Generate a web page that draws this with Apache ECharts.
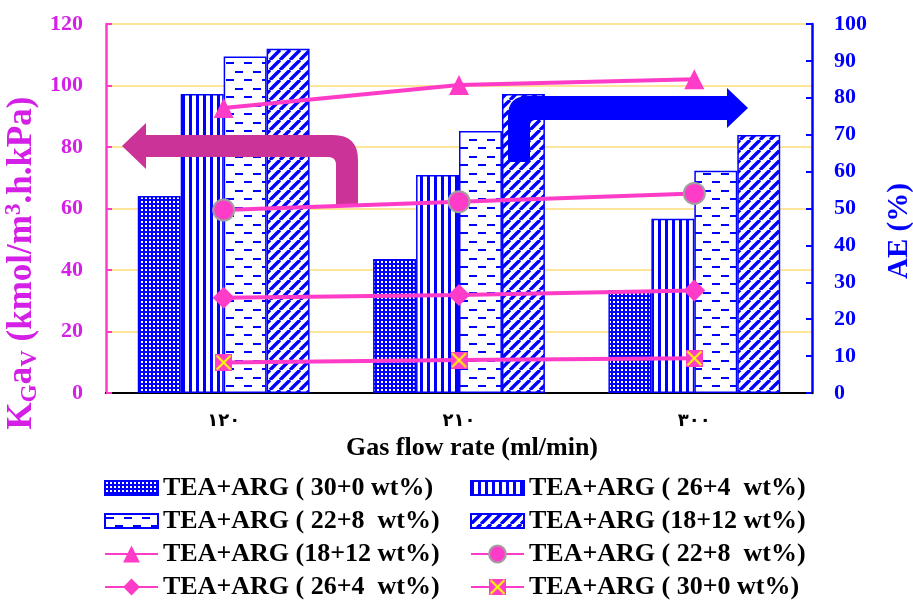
<!DOCTYPE html>
<html>
<head>
<meta charset="utf-8">
<script src="https://cdn.jsdelivr.net/npm/echarts@6/dist/echarts.min.js"></script>
<style>
  html, body { margin: 0; padding: 0; background: #fff; }
  #chart { width: 913px; height: 602px; }
</style>
</head>
<body>
<div id="chart"></div>
<script>
// categories (Arabic-Indic digits as in the figure)
const categories = ["١٢٠", "٢١٠", "٣٠٠"];

// AE (%) bars, right axis
const ae30_0 = [53.4, 36.3, 27.9];
const ae26_4 = [81.0, 59.1, 47.2];
const ae22_8 = [91.2, 71.0, 60.2];
const ae18_12 = [93.3, 81.0, 69.9];

// KGaV lines, left axis
const kga18_12 = [92.7, 100.2, 102.0];
const kga22_8 = [59.5, 62.2, 64.9];
const kga26_4 = [31.0, 31.9, 33.3];
const kga30_0 = [9.9, 10.7, 11.3];

// axis ticks
const leftTicks = { min: 0, max: 120, interval: 20 };
const rightTicks = { min: 0, max: 100, interval: 10 };

const BLUE = "#0000ff";
const PINK = "#ff3cc8";
const PURPLE = "#d41fe6";
const SERIF = '"Liberation Serif", "Times New Roman", serif';

function makePattern(w, h, draw) {
  const c = document.createElement("canvas");
  c.width = w; c.height = h;
  const g = c.getContext("2d");
  draw(g, w, h);
  return { image: c, repeat: "repeat" };
}

const dotted = makePattern(4, 4, (g, w, h) => {
  g.fillStyle = BLUE; g.fillRect(0, 0, w, h);
  g.fillStyle = "#fff"; g.fillRect(1, 1, 2, 2);
});
const vertical = makePattern(7, 4, (g, w, h) => {
  g.fillStyle = "#fff"; g.fillRect(0, 0, w, h);
  g.fillStyle = BLUE; g.fillRect(0, 0, 3, h);
});
const dashed = makePattern(18, 17, (g, w, h) => {
  g.fillStyle = "#fff"; g.fillRect(0, 0, w, h);
  g.fillStyle = BLUE;
  g.fillRect(1, 3, 8, 2);
  g.fillRect(10, 11, 8, 2);
});
const diagonal = makePattern(10, 10, (g, w, h) => {
  g.fillStyle = "#fff"; g.fillRect(0, 0, w, h);
  g.strokeStyle = BLUE; g.lineWidth = 3.4;
  g.beginPath();
  for (let k = -1; k <= 1; k++) {
    g.moveTo(k * w, h); g.lineTo(k * w + w, 0);
  }
  g.stroke();
});

// pink square with yellow cross marker
const xMark = (() => {
  const c = document.createElement("canvas");
  c.width = 34; c.height = 34;
  const g = c.getContext("2d");
  g.fillStyle = PINK; g.fillRect(0, 0, 34, 34);
  g.strokeStyle = "#ffff00"; g.lineWidth = 4;
  g.beginPath();
  g.moveTo(3, 3); g.lineTo(31, 31);
  g.moveTo(31, 3); g.lineTo(3, 31);
  g.stroke();
  return "image://" + c.toDataURL();
})();

// quadratic corner points for the bent arrows
function corner(p0, c, p1) {
  const pts = [];
  for (let i = 0; i <= 8; i++) {
    const t = i / 8, u = 1 - t;
    pts.push([u * u * p0[0] + 2 * u * t * c[0] + t * t * p1[0], u * u * p0[1] + 2 * u * t * c[1] + t * t * p1[1]]);
  }
  return pts;
}

const pinkArrow = [].concat(
  [[122, 146], [146, 123], [146, 135]],
  corner([333, 135], [358, 135], [358, 160]),
  [[358, 205], [336, 205]],
  corner([336, 165], [336, 157], [328, 157]),
  [[146, 157], [146, 169]]
);
const blueArrow = [].concat(
  [[748, 108], [727, 88], [727, 96]],
  corner([528, 96], [508, 96], [508, 116]),
  [[508, 162], [530, 162]],
  corner([530, 126], [530, 120], [536, 120]),
  [[727, 120], [727, 128]]
);

function barSeries(name, data, fill) {
  return {
    name: "b|" + name, type: "bar", yAxisIndex: 1, data: data, z: 1,
    barGap: "0%", barCategoryGap: "27%",
    itemStyle: { color: fill, borderColor: BLUE, borderWidth: 1.5 }
  };
}

function lineSeries(name, data, symbol, size, extra) {
  return {
    name: "l|" + name, type: "line", yAxisIndex: 0, data: data, z: 5,
    symbol: symbol, symbolSize: size,
    lineStyle: { color: PINK, width: 4 },
    itemStyle: Object.assign({ color: PINK }, extra || {})
  };
}

const legendBase = {
  orient: "vertical", itemWidth: 53, itemGap: 7, padding: 0,
  selectedMode: false,
  formatter: n => n.slice(2),
  textStyle: { fontFamily: SERIF, fontWeight: "bold", fontSize: 26, color: "#000" }
};

const chart = echarts.init(document.getElementById("chart"));
chart.setOption({
  animation: false,
  grid: { left: 106, right: 101, top: 24, bottom: 209 },
  legend: [
    Object.assign({}, legendBase, { data: ["b|TEA+ARG ( 30+0 wt%)", "b|TEA+ARG ( 22+8  wt%)"], left: 104, top: 475, itemHeight: 14, icon: "rect" }),
    Object.assign({}, legendBase, { data: ["b|TEA+ARG ( 26+4  wt%)", "b|TEA+ARG (18+12 wt%)"], left: 470, top: 475, itemHeight: 14, icon: "rect" }),
    Object.assign({}, legendBase, { data: ["l|TEA+ARG (18+12 wt%)", "l|TEA+ARG ( 26+4  wt%)"], left: 104, top: 541, itemHeight: 21 }),
    Object.assign({}, legendBase, { data: ["l|TEA+ARG ( 22+8  wt%)", "l|TEA+ARG ( 30+0 wt%)"], left: 470, top: 541, itemHeight: 21 })
  ],
  xAxis: [
    {
      type: "category", data: categories, position: "bottom",
      axisLine: { lineStyle: { color: "#000", width: 2 } },
      axisTick: { inside: true, length: 6, lineStyle: { color: "#000", width: 1.5 } },
      axisLabel: { margin: 19, color: "#000", fontWeight: "bold", fontSize: 18, fontFamily: "DejaVu Sans" },
      splitLine: { show: false }
    },
    {
      type: "category", data: categories, position: "top",
      axisLine: { lineStyle: { color: "#000", width: 2 } },
      axisTick: { show: false }, axisLabel: { show: false }
    }
  ],
  yAxis: [
    {
      type: "value", position: "left",
      min: leftTicks.min, max: leftTicks.max, interval: leftTicks.interval,
      axisLine: { show: true, lineStyle: { color: PINK, width: 2.5 } },
      axisTick: { show: true, inside: true, length: 6, lineStyle: { color: PINK, width: 2 } },
      axisLabel: { margin: 23, color: PURPLE, fontWeight: "bold", fontSize: 22, fontFamily: SERIF },
      splitLine: { show: true, lineStyle: { color: "#fde59a", width: 2 } }
    },
    {
      type: "value", position: "right",
      min: rightTicks.min, max: rightTicks.max, interval: rightTicks.interval,
      axisLine: { show: true, lineStyle: { color: BLUE, width: 2.5 } },
      axisTick: { show: true, inside: true, length: 6, lineStyle: { color: BLUE, width: 2 } },
      axisLabel: { margin: 22, color: BLUE, fontWeight: "bold", fontSize: 22, fontFamily: SERIF },
      splitLine: { show: false }
    }
  ],
  graphic: [
    { type: "polygon", z: 3, shape: { points: pinkArrow }, style: { fill: "#cc3399" } },
    { type: "polygon", z: 3, shape: { points: blueArrow }, style: { fill: BLUE } },
    {
      type: "text", x: 22, y: 263, rotation: Math.PI / 2, z: 10,
      style: {
        text: "{m|K}{s|G}{m|a}{s|V}{m| (kmol/m}{p|3}{m|.h.kPa)}",
        align: "center", verticalAlign: "middle",
        rich: {
          m: { fontFamily: SERIF, fontWeight: "bold", fontSize: 35, lineHeight: 39, fill: PURPLE },
          s: { fontFamily: SERIF, fontWeight: "bold", fontSize: 23, lineHeight: 23, verticalAlign: "bottom", fill: PURPLE },
          p: { fontFamily: SERIF, fontWeight: "bold", fontSize: 23, lineHeight: 23, verticalAlign: "top", fill: PURPLE }
        }
      }
    },
    {
      type: "text", x: 900, y: 231, rotation: Math.PI / 2, z: 10,
      style: {
        text: "AE (%)", align: "center", verticalAlign: "middle",
        fontFamily: SERIF, fontWeight: "bold", fontSize: 29, fill: BLUE
      }
    },
    {
      type: "text", x: 472, y: 448, z: 10,
      style: {
        text: "Gas flow rate (ml/min)", align: "center", verticalAlign: "middle",
        fontFamily: SERIF, fontWeight: "bold", fontSize: 26, fill: "#000"
      }
    }
  ],
  series: [
    barSeries("TEA+ARG ( 30+0 wt%)", ae30_0, dotted),
    barSeries("TEA+ARG ( 26+4  wt%)", ae26_4, vertical),
    barSeries("TEA+ARG ( 22+8  wt%)", ae22_8, dashed),
    barSeries("TEA+ARG (18+12 wt%)", ae18_12, diagonal),
    lineSeries("TEA+ARG (18+12 wt%)", kga18_12, "triangle", 20),
    lineSeries("TEA+ARG ( 22+8  wt%)", kga22_8, "circle", 21, { borderColor: "#a0a0a0", borderWidth: 2 }),
    lineSeries("TEA+ARG ( 26+4  wt%)", kga26_4, "diamond", 22),
    lineSeries("TEA+ARG ( 30+0 wt%)", kga30_0, xMark, 17)
  ]
});
</script>
</body>
</html>
